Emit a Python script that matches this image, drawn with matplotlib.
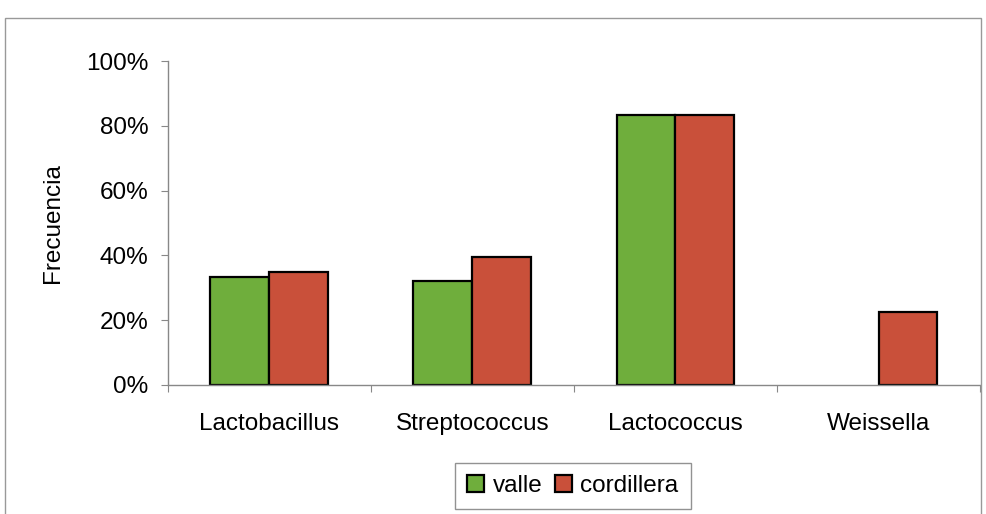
import numpy as np
import matplotlib
matplotlib.use('Agg')
import matplotlib.pyplot as plt
from matplotlib.patches import Rectangle
from matplotlib.ticker import PercentFormatter

plt.rcParams['font.family'] = ['Liberation Sans', 'DejaVu Sans']

CATEGORIES = ['Lactobacillus', 'Streptococcus', 'Lactococcus', 'Weissella']
VALLE = [0.335, 0.32, 0.835, 0.0]
CORDILLERA = [0.35, 0.395, 0.835, 0.225]
SERIES = ['valle', 'cordillera']

GREEN = '#6fae3c'
RED = '#c9503a'
FS = 17.5

fig = plt.figure(figsize=(9.86, 5.14), dpi=100)
ax = fig.add_axes([0.170, 0.251, 0.824, 0.630])

x = np.arange(len(CATEGORIES))
w = 0.29
b1 = ax.bar(x - w/2, VALLE, w, color=GREEN, edgecolor='black', linewidth=1.6, label=SERIES[0])
b2 = ax.bar(x + w/2, CORDILLERA, w, color=RED, edgecolor='black', linewidth=1.6, label=SERIES[1])
# zero-height bars leave no outline
for bars, vals in [(b1, VALLE), (b2, CORDILLERA)]:
    for p, v in zip(bars, vals):
        if v == 0:
            p.set_linewidth(0)

ax.set_xlim(-0.5, len(CATEGORIES) - 0.5)
ax.set_ylim(0, 1.0)
ax.set_yticks(np.arange(0, 1.01, 0.2))
ax.yaxis.set_major_formatter(PercentFormatter(1.0, decimals=0))

# category labels between the boundary ticks
ax.set_xticks(np.arange(-0.5, len(CATEGORIES), 1.0))
ax.set_xticklabels([])
ax.set_xticks(x, minor=True)
ax.set_xticklabels(CATEGORIES, minor=True, fontsize=FS)
ax.tick_params(axis='x', which='minor', length=0, pad=20)
ax.tick_params(axis='x', which='major', length=5, color='#888888', direction='out')
ax.tick_params(axis='y', labelsize=FS, length=5, color='#888888', pad=9)

for s in ['top', 'right']:
    ax.spines[s].set_visible(False)
for s in ['left', 'bottom']:
    ax.spines[s].set_color('#888888')
    ax.spines[s].set_linewidth(1)

ax.set_ylabel('Frecuencia', fontsize=FS, labelpad=16)

leg = fig.legend(loc='center', bbox_to_anchor=(0.581, 0.054), ncol=2, fontsize=FS,
                 frameon=True, fancybox=False, edgecolor='#777777', handlelength=0.7,
                 handleheight=0.7, handletextpad=0.35, columnspacing=0.5, borderpad=0.5)
leg.get_frame().set_linewidth(1)

# outer chart frame
fig.patches.append(Rectangle((0.005, -0.01), 0.99, 0.975, transform=fig.transFigure,
                             fill=False, edgecolor='#999999', linewidth=1))

fig.savefig('out.png', dpi=100)
